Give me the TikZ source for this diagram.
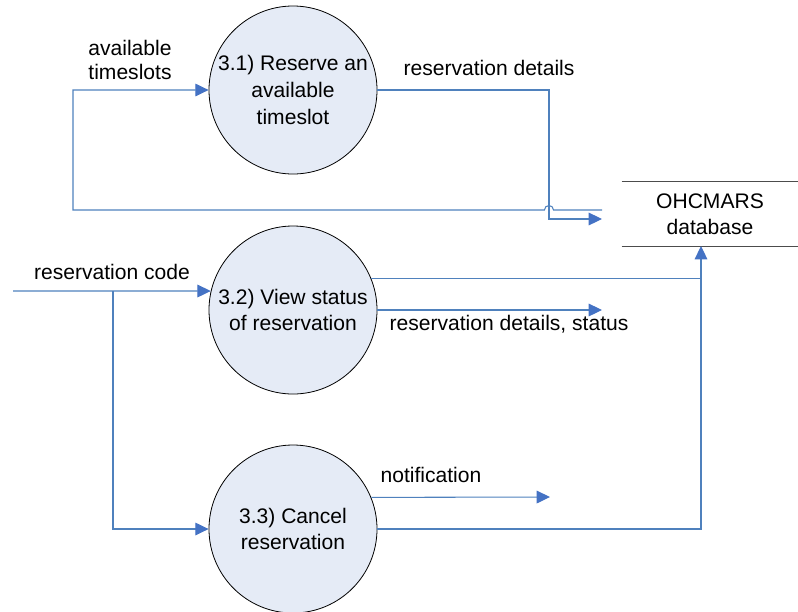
\documentclass[tikz,border=0pt]{standalone}
\usepackage{fontspec}
\setmainfont{Liberation Sans}
\usetikzlibrary{positioning}
\usetikzlibrary{arrows.meta}
\definecolor{flowblue}{RGB}{79,129,189}
\definecolor{tipblue}{RGB}{68,114,196}
\definecolor{procfill}{RGB}{229,235,246}
\tikzset{
	process/.style={circle,draw=black,line width=0.6pt,fill=procfill,minimum size=126pt,inner sep=0pt,align=center,font=\fontsize{15.8}{20}\selectfont},
	store/.style={minimum width=132pt,minimum height=48pt,inner sep=0pt,align=center,font=\fontsize{15.8}{19.5}\selectfont},
	flow/.style={draw=flowblue,line width=0.8pt},
	flowarrow/.style={flow,-{Triangle[length=10pt,width=9.5pt,color=tipblue]}},
	flowlabel/.style={inner sep=0pt,align=center,font=\fontsize{15.8}{18}\selectfont}
}

\begin{document}
\begin{tikzpicture}[x=0.75pt,y=-0.75pt]
				\useasboundingbox (0,0) rectangle (798,611);
				%Nodes
				\node[process] (p31) at (293,90) {3.1) Reserve an\\available\\timeslot};
				\node[process] (p32) at (293,310) {3.2) View status\\of reservation};
				\node[process] (p33) at (293,529) {3.3) Cancel\\reservation};
				\node[store]   (db)  at (710,214) {OHCMARS\\database};

				\node[flowlabel] (lavail)   at (130,60)  {available\\timeslots};
				\node[flowlabel] (ldetails) at (489,68)  {reservation details};
				\node[flowlabel] (lcode)    at (112,272) {reservation code};
				\node[flowlabel] (lstatus)  at (509,324) {reservation details, status};
				\node[flowlabel] (lnotify)  at (431,475) {notification};

				%Coordinates
				\coordinate      (c1)   at (602,210);
				\coordinate      (hopR) at (553.5,210);
				\coordinate      (c2)   at (73,210);
				\coordinate      (d1)   at (549,219);
				\coordinate      (d2)   at (602,219);
				\coordinate      (rc0)  at (13,291);
				\coordinate      (rcb)  at (113,291);
				\coordinate      (dbin) at (701,246);
				\coordinate      (j2)   at (701,279);
				\coordinate      (st)   at (602,310);
				\coordinate      (nt)   at (550,497);

				%Store
				\draw[black!70,line width=0.8pt] (db.north west) -- (db.north east);
				\draw[black!70,line width=0.8pt] (db.south west) -- (db.south east);

				%Lines
				\draw[flowarrow] (c1) -- (hopR) arc[start angle=0,end angle=180,radius=3.4pt] -- (c2) |- (p31.west);
				\draw[flowarrow] (p31.east) -| (d1) -- (d2);
				\draw[flowarrow] (rc0) -- (p32.167);
				\draw[flowarrow] (rcb) |- (p33.west);
				\draw[flowarrow] (p32.22) -| (dbin);
				\draw[flow] (p33.east) -| (j2);
				\draw[flowarrow] (p32.east) -- (st);
				\draw[flowarrow] (p33.22) -- (nt);

\end{tikzpicture}
\end{document}
